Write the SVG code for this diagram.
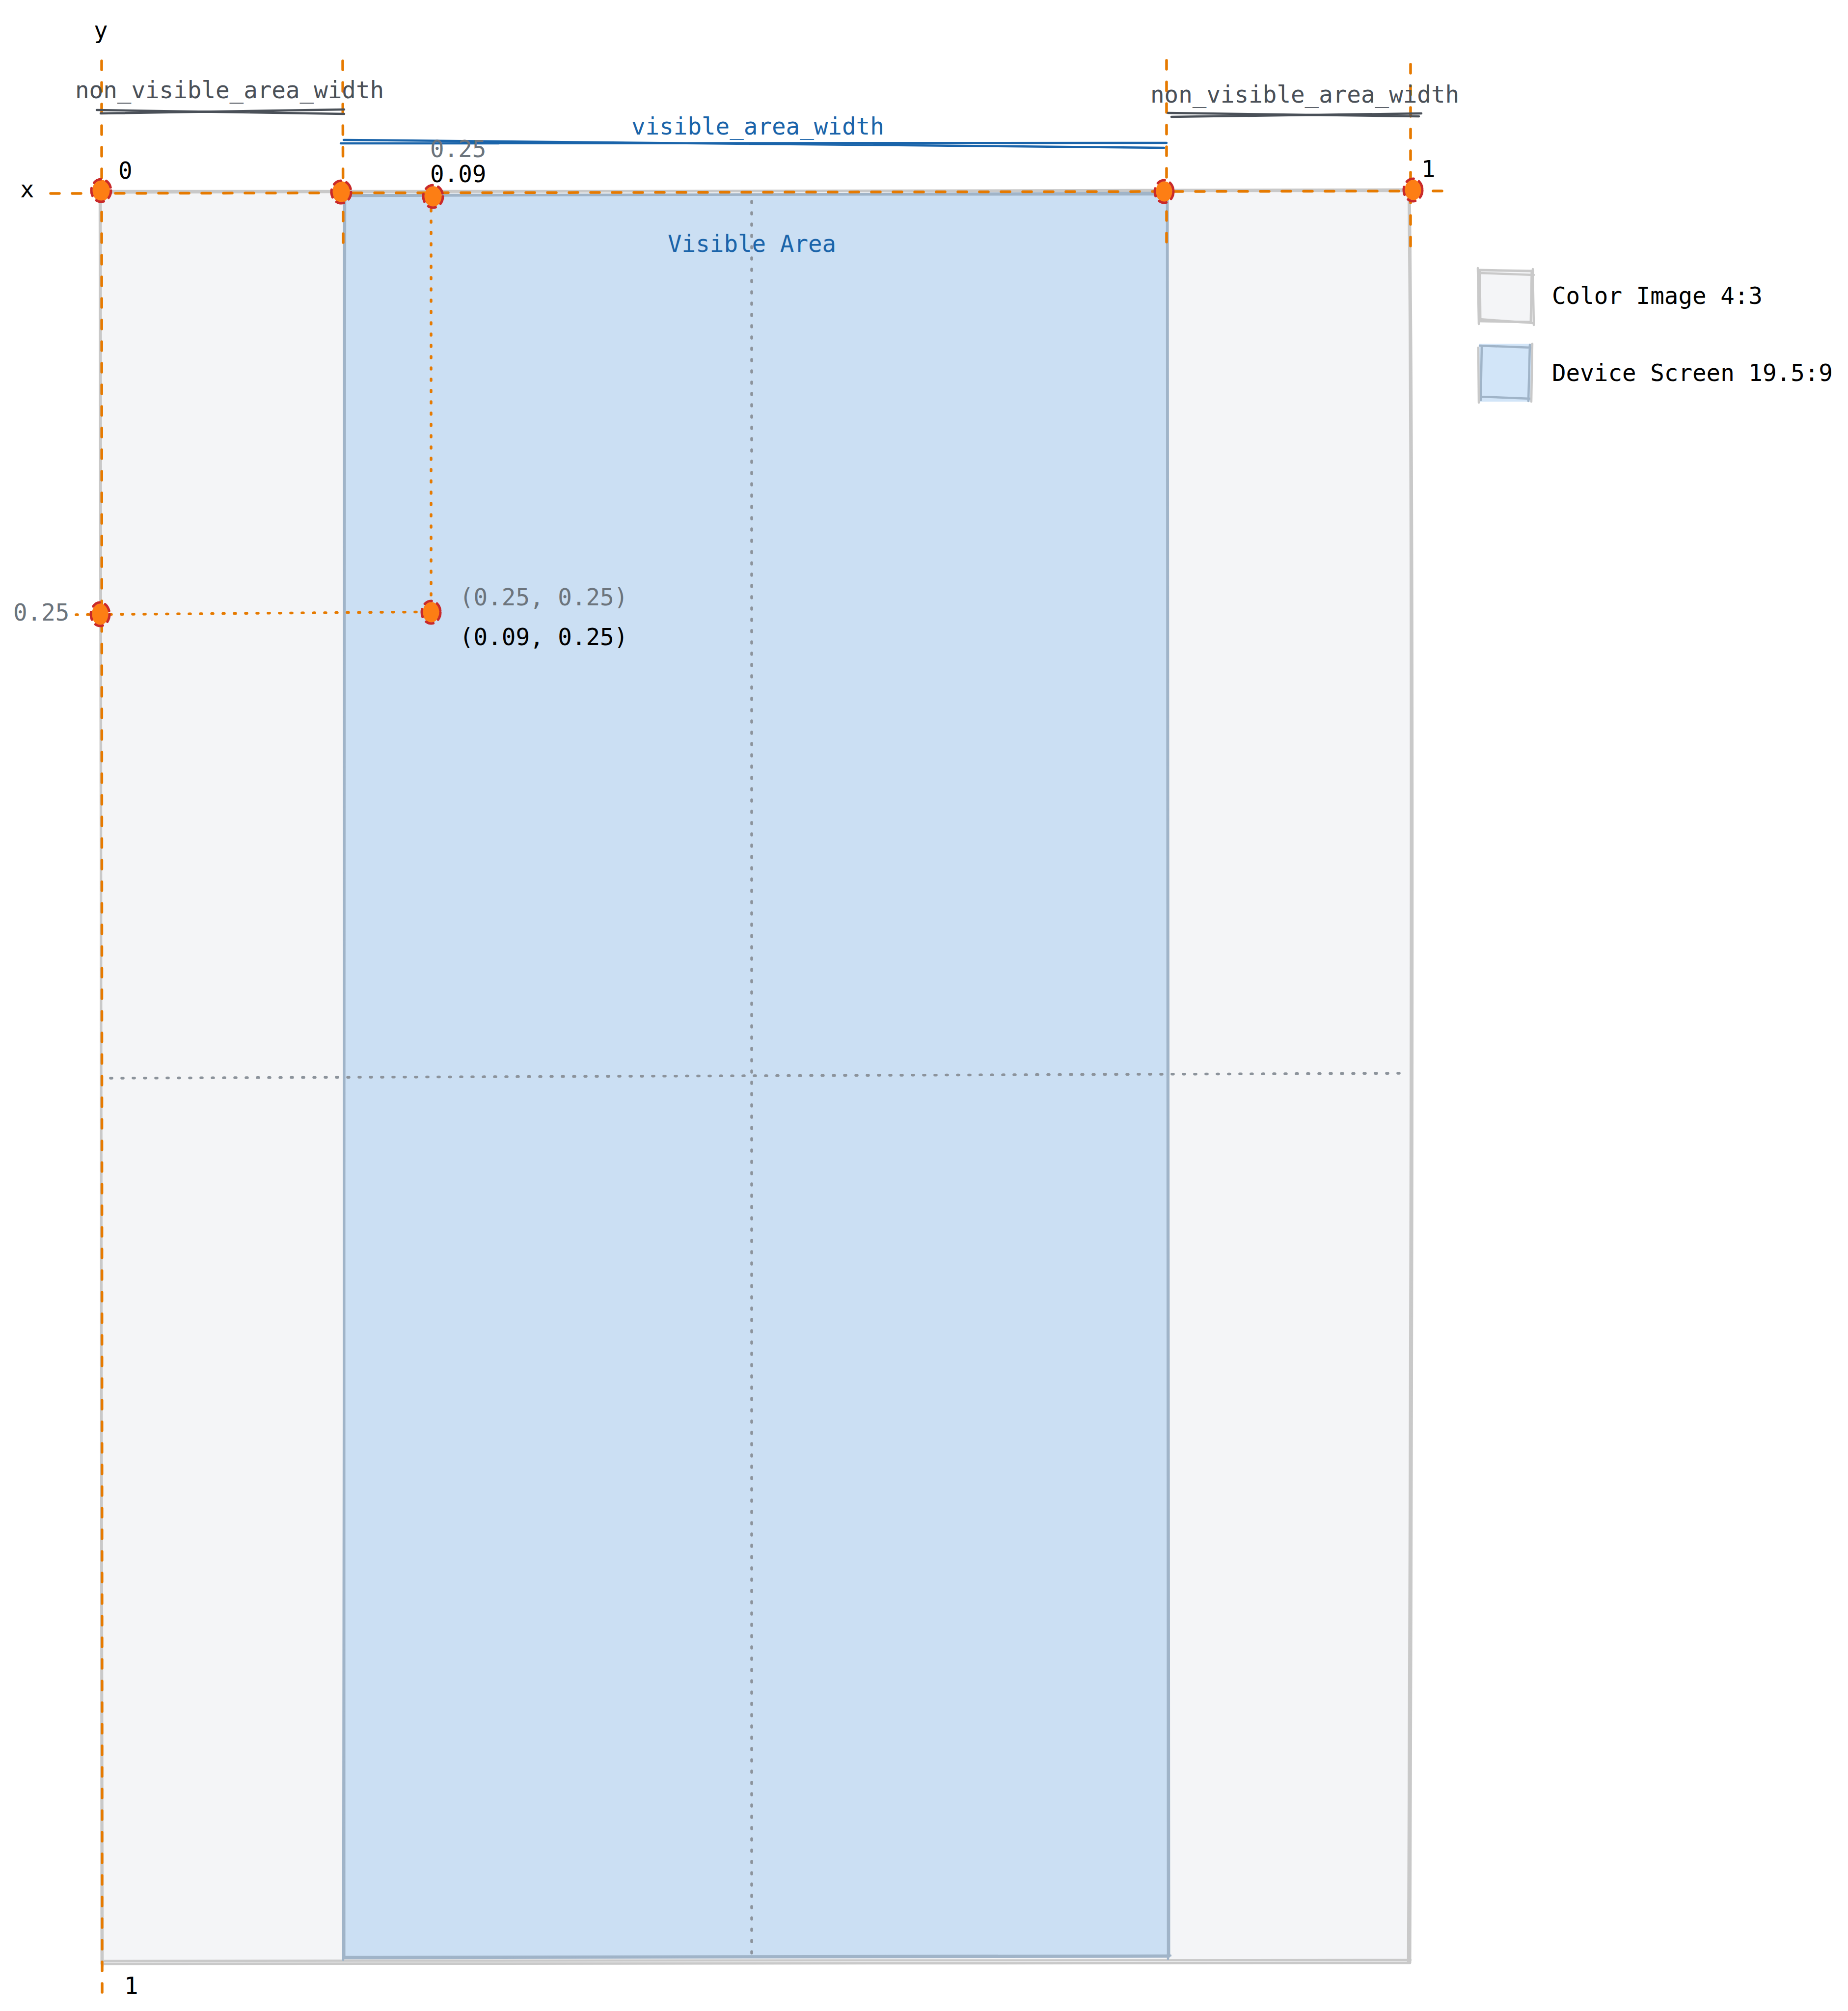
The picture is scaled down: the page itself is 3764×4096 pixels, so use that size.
<svg xmlns="http://www.w3.org/2000/svg" width="3764" height="4096" viewBox="0 0 3764 4096">
<style>
text{font-family:"DejaVu Sans Mono","Liberation Mono",monospace;font-size:47.5px;fill:#000}
.g{fill:#6c747c}.dk{fill:#4a5058}.bl{fill:#1a64aa}
.guide{stroke:#e67a00;stroke-width:5.5;stroke-linecap:round;fill:none;stroke-dasharray:18 26}
.dot{stroke:#e67a00;stroke-width:5.5;stroke-linecap:round;fill:none;stroke-dasharray:3 20}
.gdot{stroke:#8c939b;stroke-width:5.5;stroke-linecap:round;fill:none;stroke-dasharray:3 20}
.dimd{stroke:#4a5058;stroke-width:4.5;stroke-linecap:round;fill:none}
.dimb{stroke:#1a64aa;stroke-width:4.5;stroke-linecap:round;fill:none}
.grayR{fill:#f4f5f7;stroke:#c9c9c9;stroke-width:5;stroke-linejoin:round}
.grayS{fill:none;stroke:#c9c9c9;stroke-width:4.5;stroke-linecap:round}
.blueR{fill:#cbdff3;stroke:#a0b4c8;stroke-width:5;stroke-linejoin:round}
.blueS{fill:none;stroke:#a0b4c8;stroke-width:4.5;stroke-linecap:round}
.pt{fill:#fd7e14}
.ptr{fill:none;stroke:#c92a2a;stroke-width:5;stroke-linecap:round;stroke-dasharray:16 12}
</style>
<rect width="3764" height="4096" fill="#ffffff"/>

<g id="color-image">
<path class="grayR" d="M205,392 L2871,386 Q2882,1200 2872,3998 L207,4000 Z"/>
<path class="grayS" d="M203,389 L2873,389 M2869,384 Q2879,1300 2868,3996 M2873,3992 L210,3994 M203,386 L209,4004"/>
</g>

<g id="device-screen">
<path class="blueR" d="M701,399 L2378,393 L2381,3985 L701,3988 Z"/>
<path class="blueS" d="M698,397 L2382,396 M2377,390 L2379,3990 M2384,3983 L699,3986 M703,394 L699,3992"/>
</g>

<g id="axes-grid">
<path class="gdot" d="M1531,410 L1531,3984"/>
<path class="gdot" d="M225,2196 L2869,2186"/>
</g>

<g id="connectors">
<path class="guide" d="M207,124 L208,4068"/>
<path class="guide" d="M698,124 L699,497"/>
<path class="guide" d="M2376,123 L2376,499"/>
<path class="guide" d="M2873,131 L2873,507"/>
<path class="guide" d="M103,394 L2952,389"/>
<path class="dot" d="M878,404 L878,1278"/>
<path class="dot" d="M155,1252 L905,1246"/>
<path class="dimd" d="M197,224 L701,232 M205,231 L701,223"/>
<path class="dimd" d="M2379,230 L2890,237 M2386,238 L2895,231"/>
<path class="dimb" d="M700,285 L2371,301 M694,292 L2376,291"/>
</g>

<g id="points">
<g id="p-0-0"><ellipse class="pt" cx="206" cy="388" rx="18" ry="22"/><ellipse class="ptr" cx="206" cy="388" rx="20" ry="23"/></g>
<g id="p-nv-left"><ellipse class="pt" cx="695" cy="391" rx="18" ry="22"/><ellipse class="ptr" cx="695" cy="391" rx="20" ry="23"/></g>
<g id="p-009"><ellipse class="pt" cx="882" cy="400" rx="18" ry="21"/><ellipse class="ptr" cx="882" cy="400" rx="20" ry="23"/></g>
<g id="p-nv-right"><ellipse class="pt" cx="2371" cy="390" rx="17" ry="21"/><ellipse class="ptr" cx="2371" cy="390" rx="19" ry="23"/></g>
<g id="p-1"><ellipse class="pt" cx="2878" cy="387" rx="17" ry="21"/><ellipse class="ptr" cx="2878" cy="387" rx="19" ry="23"/></g>
<g id="p-y025"><ellipse class="pt" cx="204" cy="1251" rx="17" ry="22"/><ellipse class="ptr" cx="204" cy="1251" rx="19" ry="24"/></g>
<g id="p-point"><ellipse class="pt" cx="878" cy="1247" rx="17" ry="21"/><ellipse class="ptr" cx="878" cy="1247" rx="19" ry="23"/></g>
</g>

<g id="labels">
<text x="191" y="78">y</text>
<text x="41" y="402">x</text>
<text x="241" y="364">0</text>
<text x="2895" y="361">1</text>
<text x="253" y="4061">1</text>
<text class="dk" x="153" y="200">non_visible_area_width</text>
<text class="dk" x="2343" y="209">non_visible_area_width</text>
<text class="bl" x="1286" y="274">visible_area_width</text>
<text class="g" x="876" y="320">0.25</text>
<text x="876" y="371">0.09</text>
<text class="bl" x="1360" y="513">Visible Area</text>
<text class="g" x="27" y="1264">0.25</text>
<text class="g" x="936" y="1233">(0.25, 0.25)</text>
<text x="936" y="1314">(0.09, 0.25)</text>
</g>

<g id="legend">
<g id="legend-color-image">
<path class="grayR" d="M3014,550 L3120,552 L3118,656 L3015,654 Z"/>
<path class="grayS" d="M3010,546 L3012,660 M3122,548 L3124,662 M3012,556 L3124,560 M3014,650 L3122,658"/>
<text x="3161" y="619">Color Image 4:3</text>
</g>
<g id="legend-device-screen">
<path d="M3012,700 L3121,700 L3121,818 L3012,818 Z" fill="#d2e5f8"/>
<path class="blueS" d="M3018,705 L3016,815 M3116,702 L3113,817 M3014,704 L3118,708 M3016,808 L3117,812"/>
<path class="grayS" d="M3011,708 L3012,820 M3121,700 L3119,818"/>
<text x="3161" y="776">Device Screen 19.5:9</text>
</g>
</g>
</svg>
